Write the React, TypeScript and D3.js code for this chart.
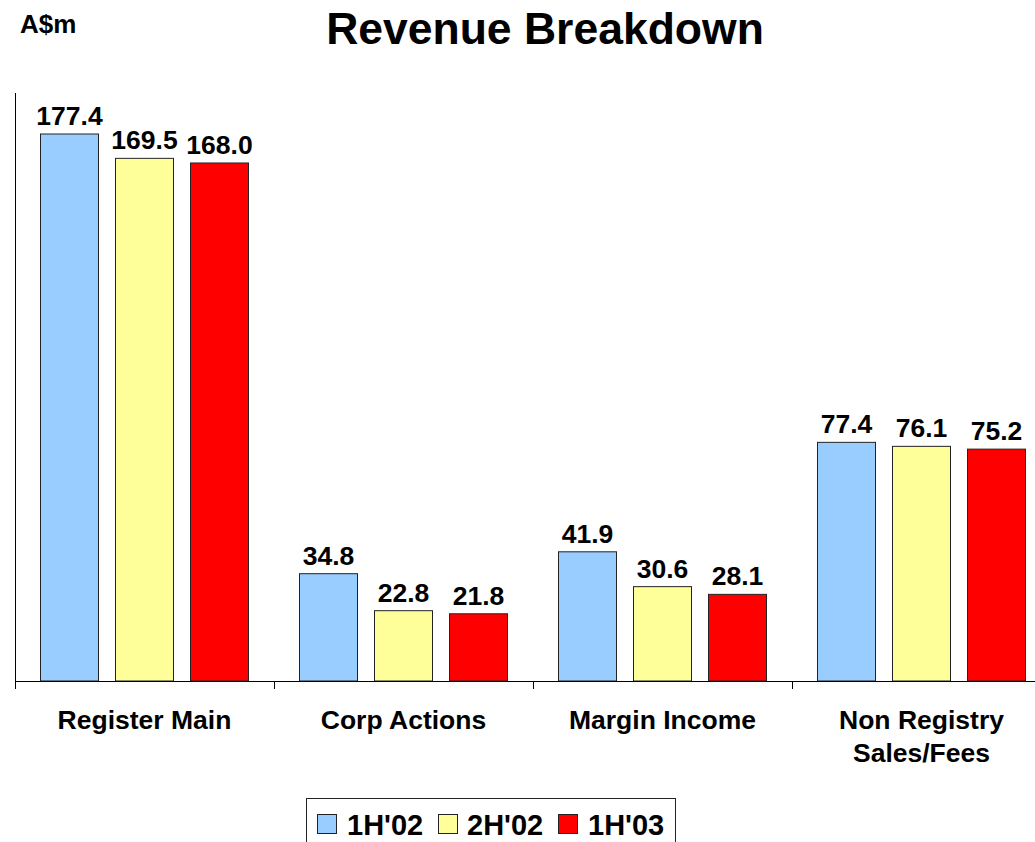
import React from "react";
import * as d3 from "d3";

const categories: string[][] = [["Register Main"], ["Corp Actions"], ["Margin Income"], ["Non Registry", "Sales/Fees"]];
const seriesNames = ["1H'02", "2H'02", "1H'03"];
const seriesColors = ["#99CCFF", "#FFFF99", "#FF0000"];
const values1H02 = [177.4, 34.8, 41.9, 77.4];
const values2H02 = [169.5, 22.8, 30.6, 76.1];
const values1H03 = [168.0, 21.8, 28.1, 75.2];
const seriesValues = [values1H02, values2H02, values1H03];

const W = 1035;
const H = 842;
const FONT = "'Liberation Sans', Arial, sans-serif";

export default function App() {
  const x0 = 15;
  const groupW = 259;
  const baseY = 681;
  const topY = 93;
  const pxPerUnit = (681 - 134) / 177.4;
  const yMax = (baseY - topY) / pxPerUnit;

  const xGroup = d3
    .scaleBand<number>()
    .domain(d3.range(categories.length))
    .range([x0, x0 + groupW * categories.length])
    .paddingInner(0)
    .paddingOuter(0);
  const xBar = d3
    .scaleBand<number>()
    .domain(d3.range(seriesNames.length))
    .range([0, groupW])
    .paddingInner(17 / 75)
    .paddingOuter(0.34);
  const y = d3.scaleLinear().domain([0, yMax]).range([baseY, topY]);

  const legendItems = [
    { sx: 317, tx: 347 },
    { sx: 438, tx: 467 },
    { sx: 558, tx: 588 },
  ];

  return (
    <svg
      width={W}
      height={H}
      style={{ position: "absolute", left: 0, top: 0, background: "#fff" }}
      fontFamily={FONT}
    >
      <text x={545} y={44} textAnchor="middle" fontSize={44.5} fontWeight="bold">
        Revenue Breakdown
      </text>
      <text x={20} y={33} fontSize={26} fontWeight="bold">
        A$m
      </text>

      {seriesValues.map((vals, si) =>
        vals.map((v, ci) => {
          const bx = (xGroup(ci) as number) + (xBar(si) as number);
          const bw = xBar.bandwidth();
          return (
            <g key={`${si}-${ci}`}>
              <rect
                x={bx}
                y={y(v)}
                width={bw}
                height={baseY - y(v)}
                fill={seriesColors[si]}
                stroke="#222"
                strokeWidth={1}
              />
              <text
                x={bx + bw / 2}
                y={y(v) - 9}
                textAnchor="middle"
                fontSize={26.5}
                fontWeight="bold"
              >
                {v.toFixed(1)}
              </text>
            </g>
          );
        })
      )}

      <line x1={x0 + 0.5} x2={x0 + 0.5} y1={topY} y2={baseY} stroke="#000" strokeWidth={1} />
      <line x1={x0} x2={W} y1={baseY + 0.5} y2={baseY + 0.5} stroke="#000" strokeWidth={1} />
      {d3.range(categories.length + 1).map((i) => {
        const tx = x0 + groupW * i + 0.5;
        return <line key={i} x1={tx} x2={tx} y1={baseY} y2={baseY + 8} stroke="#000" strokeWidth={1} />;
      })}

      {categories.map((lines, ci) => (
        <text
          key={ci}
          x={(xGroup(ci) as number) + groupW / 2}
          y={729}
          textAnchor="middle"
          fontSize={26.5}
          fontWeight="bold"
        >
          {lines.map((l, li) => (
            <tspan key={li} x={(xGroup(ci) as number) + groupW / 2} dy={li === 0 ? 0 : 33}>
              {l}
            </tspan>
          ))}
        </text>
      ))}

      <rect x={306.5} y={798.5} width={369} height={60} fill="#fff" stroke="#222" strokeWidth={1} />
      {seriesNames.map((n, i) => (
        <g key={n}>
          <rect
            x={legendItems[i].sx + 0.5}
            y={814.5}
            width={19}
            height={19}
            fill={seriesColors[i]}
            stroke="#222"
            strokeWidth={1}
          />
          <text x={legendItems[i].tx} y={835} fontSize={29} fontWeight="bold">
            {n}
          </text>
        </g>
      ))}
    </svg>
  );
}
